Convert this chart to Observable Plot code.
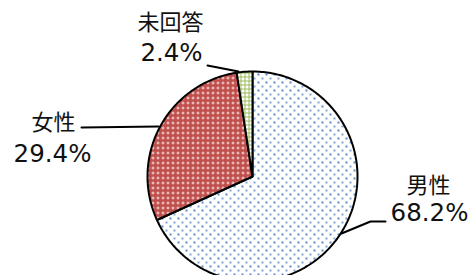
<!DOCTYPE html>
<html><head><meta charset="utf-8">
<script src="https://cdn.jsdelivr.net/npm/d3@7"></script>
<script src="https://cdn.jsdelivr.net/npm/@observablehq/plot@0.6"></script>
<style>
html,body{margin:0;padding:0;background:#fff;}
</style>
</head><body><div id="chart"></div>
<script>
// Data
const categories = ["男性", "女性", "未回答"];
const values = [68.2, 29.4, 2.4];
const valueLabels = ["68.2%", "29.4%", "2.4%"];
const patternIds = ["pat-male", "pat-female", "pat-na"];

// Layout
const W = 474, H = 275;
const cx = 252, cy = 176, R = 105;

const pie = d3.pie().sort(null).value(d => d)(values);
const slices = [];
pie.forEach((p, i) => {
  const pts = [{x: cx, y: cy}];
  const n = Math.max(4, Math.ceil((p.endAngle - p.startAngle) / (Math.PI / 180)));
  for (let k = 0; k <= n; k++) {
    const a = p.startAngle + (p.endAngle - p.startAngle) * k / n;
    pts.push({x: cx + R * Math.sin(a), y: cy - R * Math.cos(a)});
  }
  pts.push({x: cx, y: cy});
  slices.push(pts);
});

// label layout: [name pos, value pos, leader points]
const labelLayout = [
  {name: [428, 185], val: [429, 213], leader: [[341, 233], [370, 221], [385, 221]]},
  {name: [53, 122], val: [52, 154], leader: [[81, 127], [158, 126]]},
  {name: [170, 22], val: [171, 53], leader: [[207, 65], [238, 71]]}
];

const nameTexts = categories.map((c, i) => ({x: labelLayout[i].name[0], y: labelLayout[i].name[1], t: c}));
const valTexts = valueLabels.map((v, i) => ({x: labelLayout[i].val[0], y: labelLayout[i].val[1], t: v}));

const marks = [];
slices.forEach((pts, i) => {
  marks.push(Plot.line(pts, {x: "x", y: "y", fill: `url(#${patternIds[i]})`, stroke: "#000", strokeWidth: 2, strokeLinejoin: "miter"}));
});
labelLayout.forEach(l => {
  marks.push(Plot.line(l.leader.map(([x, y]) => ({x, y})), {x: "x", y: "y", stroke: "#000", strokeWidth: 2}));
});
marks.push(Plot.text(nameTexts, {x: "x", y: "y", text: "t", fontSize: 22, fontFamily: "Noto Sans CJK JP", fill: "#111"}));
marks.push(Plot.text(valTexts, {x: "x", y: "y", text: "t", fontSize: 24.5, fontFamily: "DejaVu Sans", fill: "#111"}));

const svg = Plot.plot({
  width: W, height: H,
  margin: 0,
  x: {domain: [0, W], range: [0, W], axis: null},
  y: {domain: [0, H], range: [0, H], axis: null},
  style: {background: "#fff", overflow: "hidden"},
  marks
});

const ns = "http://www.w3.org/2000/svg";
const defs = document.createElementNS(ns, "defs");
defs.innerHTML = `
<pattern id="pat-male" patternUnits="userSpaceOnUse" width="8" height="8">
  <rect width="8" height="8" fill="#fff"/>
  <rect x="1" y="1" width="2" height="2" fill="#5b8bcb"/>
  <rect x="5" y="5" width="2" height="2" fill="#7fa6d8"/>
</pattern>
<pattern id="pat-female" patternUnits="userSpaceOnUse" width="5" height="5">
  <rect width="5" height="5" fill="#c0504d"/>
  <rect x="2" y="2" width="1" height="1" fill="#fff"/>
  <rect x="1" y="2" width="1" height="1" fill="#f0c8c6"/>
  <rect x="3" y="2" width="1" height="1" fill="#f0c8c6"/>
  <rect x="2" y="1" width="1" height="1" fill="#f0c8c6"/>
  <rect x="2" y="3" width="1" height="1" fill="#f0c8c6"/>
</pattern>
<pattern id="pat-na" patternUnits="userSpaceOnUse" width="4" height="4">
  <rect width="4" height="4" fill="#fff"/>
  <rect x="0" y="0" width="4" height="1" fill="#9bbb59"/>
  <rect x="0" y="0" width="1" height="4" fill="#9bbb59"/>
</pattern>`;
svg.insertBefore(defs, svg.firstChild);
document.getElementById("chart").appendChild(svg);
</script>
</body></html>
